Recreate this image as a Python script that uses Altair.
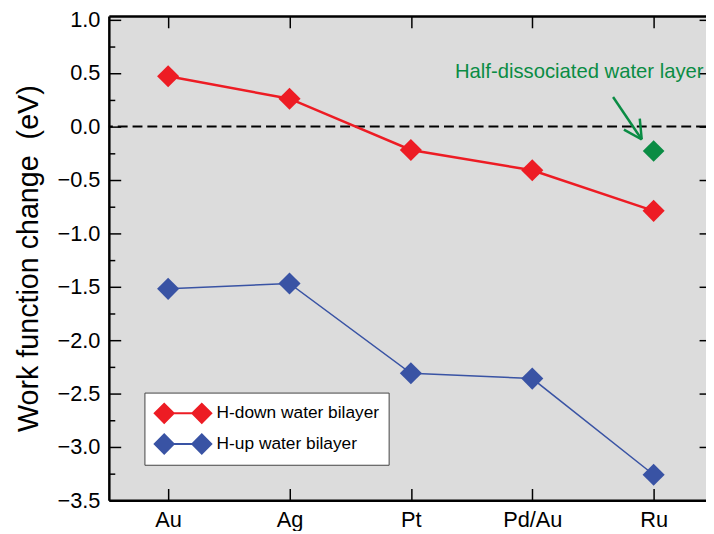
import altair as alt
import pandas as pd

# ---------------- data ----------------
metals = ["Au", "Ag", "Pt", "Pd/Au", "Ru"]
h_down = [0.47, 0.26, -0.22, -0.41, -0.79]
h_up = [-1.52, -1.47, -2.31, -2.36, -3.26]
series_names = ["H-down water bilayer", "H-up water bilayer"]
half_metal = ["Ru"]
half_value = [-0.23]
annotation_text = ["Half-dissociated water layer"]
y_title = "Work function change\u00a0\u00a0(eV)"
y_major = [-3.5, -3.0, -2.5, -2.0, -1.5, -1.0, -0.5, 0.0, 0.5, 1.0]
y_minor = [-3.25, -2.75, -2.25, -1.75, -1.25, -0.75, -0.25, 0.25, 0.75]
zero_line = [0.0]

RED = "#ED1C24"
BLUE = "#3953A4"
GREEN = "#0A8C44"
BG = "#DCDCDC"
FONT = "Liberation Sans"

W, H = 604, 490

df = pd.DataFrame({
    "metal": metals * 2,
    "value": h_down + h_up,
    "series": [series_names[0]] * len(metals) + [series_names[1]] * len(metals),
})
green_df = pd.DataFrame({"metal": half_metal, "value": half_value})
zero_df = pd.DataFrame({"value": zero_line})


def xs():
    return alt.Scale(type="point", domain=metals, padding=0.46, align=0.531)


def ys():
    return alt.Scale(domain=[-3.5, 1.035], nice=False, zero=False)


x_main_axis = alt.Axis(orient="bottom", domain=True, domainColor="black", domainWidth=2.5,
                       ticks=False, tickSize=0, labels=True, labelFontSize=22, labelFont=FONT,
                       labelColor="black", labelPadding=9, labelAngle=0, title=None, grid=False)
y_main_axis = alt.Axis(orient="left", values=y_major, format=".1f", domain=True,
                       domainColor="black", domainWidth=2.5, ticks=False, tickSize=0,
                       labelFontSize=22, labelFont=FONT, labelColor="black", labelPadding=9,
                       title=y_title, titleFontSize=29, titleFont=FONT, titleFontWeight="normal",
                       titleColor="black", titlePadding=14, grid=False)

X = alt.X("metal:N", scale=xs(), axis=x_main_axis, sort=metals)
Y = alt.Y("value:Q", scale=ys(), axis=y_main_axis)

color_scale = alt.Scale(domain=series_names, range=[RED, BLUE])

# legend glyph: diamond - line - diamond (units scaled by sqrt(symbolSize)/2 = 12 px)
PATH = ("M-2.5,0L-1.583,-0.917L-0.667,0L-1.583,0.917Z "
        "M-0.75,-0.085L0.75,-0.085L0.75,0.085L-0.75,0.085Z "
        "M0.667,0L1.583,-0.917L2.5,0L1.583,0.917Z")

legend = alt.Legend(title=None, orient="none", legendX=36, legendY=381,
                    symbolType=PATH, symbolSize=576, symbolOffset=18,
                    symbolStrokeWidth=0, symbolOpacity=1,
                    labelFontSize=17.5, labelFont=FONT, labelColor="black", labelOffset=22,
                    labelLimit=400,
                    fillColor="white", strokeColor="#444444", padding=9, rowPadding=7)

zero_rule = alt.Chart(zero_df).mark_rule(color="black", strokeWidth=2, strokeDash=[10, 5]).encode(y=Y)

line_down = alt.Chart(df).transform_filter(
    alt.datum.series == series_names[0]
).mark_line(color=RED, strokeWidth=2.5).encode(x=X, y=Y)

line_up = alt.Chart(df).transform_filter(
    alt.datum.series == series_names[1]
).mark_line(color=BLUE, strokeWidth=1.5).encode(x=X, y=Y)

points = alt.Chart(df).mark_point(shape="diamond", filled=True, size=500, opacity=1).encode(
    x=X, y=Y,
    color=alt.Color("series:N", scale=color_scale, legend=legend),
)

green_pt = alt.Chart(green_df).mark_point(shape="diamond", filled=True, size=480, opacity=1,
                                          color=GREEN).encode(x=X, y=Y)

arrow_style = dict(color=GREEN, strokeWidth=2.5)
arrow_shaft = alt.Chart(green_df).mark_rule(**arrow_style).encode(
    x=alt.value(510), y=alt.value(82), x2=alt.value(539), y2=alt.value(125))
arrow_head1 = alt.Chart(green_df).mark_rule(**arrow_style).encode(
    x=alt.value(521), y=alt.value(115), x2=alt.value(539), y2=alt.value(125))
arrow_head2 = alt.Chart(green_df).mark_rule(**arrow_style).encode(
    x=alt.value(537), y=alt.value(104), x2=alt.value(539), y2=alt.value(125))

label = alt.Chart(green_df).mark_text(align="left", baseline="alphabetic", fontSize=20.5, font=FONT,
                                      color=GREEN, text=annotation_text[0]).encode(
    x=alt.value(350), y=alt.value(63))

data_layer = alt.layer(zero_rule, line_down, line_up, points, green_pt,
                       arrow_shaft, arrow_head1, arrow_head2, label)

tick_common = dict(labels=False, domain=False, title=None, grid=False, tickColor="black", tickWidth=1.5)

# major inward ticks (bottom + left)
ticks1 = alt.Chart(df).mark_point(opacity=0).encode(
    x=alt.X("metal:N", scale=xs(), sort=metals,
            axis=alt.Axis(orient="bottom", offset=-12, tickSize=12, ticks=True, **tick_common)),
    y=alt.Y("value:Q", scale=ys(),
            axis=alt.Axis(orient="left", values=y_major, offset=-12, tickSize=12, ticks=True, **tick_common)),
)
# top frame line + minor left ticks
ticks2 = alt.Chart(df).mark_point(opacity=0).encode(
    x=alt.X("metal:N", scale=xs(), sort=metals,
            axis=alt.Axis(orient="top", domain=True, domainColor="black", domainWidth=2.5,
                          ticks=False, labels=False, title=None, grid=False)),
    y=alt.Y("value:Q", scale=ys(),
            axis=alt.Axis(orient="left", values=y_minor, offset=-6, tickSize=6, ticks=True, **tick_common)),
)
# top inward ticks + right inward ticks
ticks3 = alt.Chart(df).mark_point(opacity=0).encode(
    x=alt.X("metal:N", scale=xs(), sort=metals,
            axis=alt.Axis(orient="top", offset=-12, tickSize=12, ticks=True, **tick_common)),
    y=alt.Y("value:Q", scale=ys(),
            axis=alt.Axis(orient="right", values=y_major, offset=-7, tickSize=7, ticks=True, **tick_common)),
)

chart = alt.layer(data_layer, ticks1, ticks2, ticks3).resolve_scale(
    x="independent", y="independent"
).properties(
    width=W, height=H, autosize="none",
    padding={"left": 102, "top": 5, "right": 0, "bottom": 28},
).configure(font=FONT).configure_view(stroke=None, fill=BG)

chart.save("out.html", embed_options={"renderer": "svg", "actions": False})
